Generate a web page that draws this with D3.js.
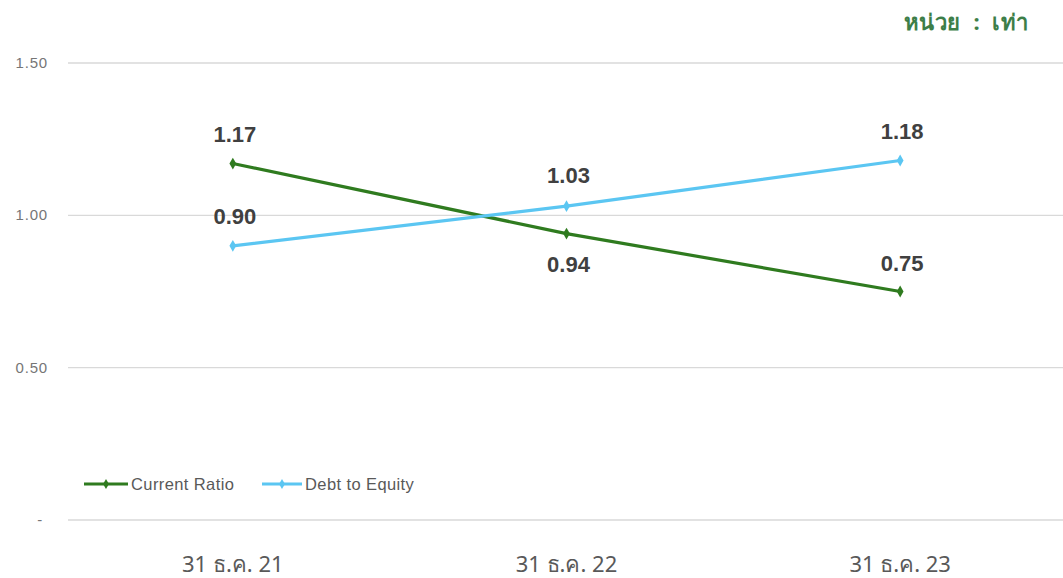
<!DOCTYPE html>
<html><head><meta charset="utf-8">
<script src="https://cdn.jsdelivr.net/npm/d3@7"></script>
<style>body{margin:0;background:#fff;}svg{display:block;}</style>
</head><body>
<svg id="c" width="1063" height="578"></svg>
<script>
const categories = ["31 ธ.ค. 21", "31 ธ.ค. 22", "31 ธ.ค. 23"];
const currentRatio = [1.17, 0.94, 0.75];
const debtToEquity = [0.90, 1.03, 1.18];
const yTicks = [0, 0.5, 1.0, 1.5];
const yTickLabels = ["- ", "0.50", "1.00", "1.50"];
const seriesNames = ["Current Ratio", "Debt to Equity"];
const seriesColors = ["#2f7b1f", "#5bc6f2"];
const unitLabel = "หน่วย  :  เท่า";

const svg = d3.select("#c");
const x = d3.scalePoint().domain(categories).range([66, 1067]).padding(0.5);
const y = d3.scaleLinear().domain([0, 1.5]).range([520, 63]);

// gridlines
svg.append("g").selectAll("line").data(yTicks).join("line")
  .attr("x1", 68).attr("x2", 1063)
  .attr("y1", d => y(d)).attr("y2", d => y(d))
  .attr("stroke", "#d9d9d9").attr("stroke-width", 1.3);

// y labels
svg.append("g").selectAll("text").data(yTicks).join("text")
  .attr("x", 48).attr("y", d => y(d) + 5)
  .attr("text-anchor", "end").attr("xml:space", "preserve")
  .attr("font-family", "Liberation Sans, Arial, sans-serif")
  .attr("font-size", 15).attr("letter-spacing", 0.8).attr("fill", "#767676")
  .text((d, i) => yTickLabels[i]);

// x labels
svg.append("g").selectAll("text").data(categories).join("text")
  .attr("x", d => x(d)).attr("y", 572)
  .attr("text-anchor", "middle")
  .attr("font-family", "Noto Sans, sans-serif")
  .attr("font-size", 22).attr("fill", "#595959")
  .text(d => d);

// unit
svg.append("text").attr("x", 1029).attr("y", 30).attr("text-anchor", "end")
  .attr("font-family", "Noto Sans, sans-serif").attr("font-weight", "bold")
  .attr("font-size", 22).attr("letter-spacing", 0.5).attr("fill", "#3d7e48").attr("xml:space", "preserve")
  .text(unitLabel);

const series = [currentRatio, debtToEquity];
const line = d3.line().x((d, i) => x(categories[i])).y(d => y(d));
const diamond = d3.symbol().type(d3.symbolDiamond).size(40);

series.forEach((vals, si) => {
  const g = svg.append("g");
  g.append("path").datum(vals).attr("d", line)
    .attr("fill", "none").attr("stroke", seriesColors[si]).attr("stroke-width", 3.2);
  g.selectAll("path.m").data(vals).join("path").attr("class", "m")
    .attr("d", diamond)
    .attr("transform", (d, i) => `translate(${x(categories[i])},${y(d)})`)
    .attr("fill", seriesColors[si]);
});

// data labels: position relative to point (above or below)
const labelOffsets = [[-22, 38, -21], [-22, -23, -21]];
series.forEach((vals, si) => {
  svg.append("g").selectAll("text").data(vals).join("text")
    .attr("x", (d, i) => x(categories[i]) + 2)
    .attr("y", (d, i) => y(d) + labelOffsets[si][i])
    .attr("text-anchor", "middle")
    .attr("font-family", "Liberation Sans, Arial, sans-serif")
    .attr("font-weight", "bold").attr("font-size", 22).attr("fill", "#404040")
    .text(d => d.toFixed(2));
});

// legend
const legend = svg.append("g");
const legendPos = [[84, 131], [262, 305]];
seriesNames.forEach((n, i) => {
  const [lx, tx] = legendPos[i];
  legend.append("line").attr("x1", lx).attr("x2", tx - 3).attr("y1", 484).attr("y2", 484)
    .attr("stroke", seriesColors[i]).attr("stroke-width", 3);
  legend.append("path").attr("d", d3.symbol().type(d3.symbolDiamond).size(30))
    .attr("transform", `translate(${(lx + tx - 3) / 2},484)`).attr("fill", seriesColors[i]);
  legend.append("text").attr("x", tx).attr("y", 490)
    .attr("font-family", "Liberation Sans Narrow, Liberation Sans, Arial, sans-serif")
    .attr("font-size", 16.5).attr("letter-spacing", 0.4).attr("fill", "#595959").text(n);
});
</script>
</body></html>
